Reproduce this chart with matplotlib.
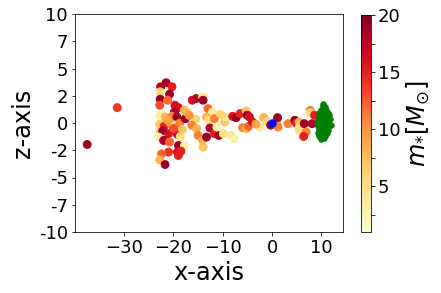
import matplotlib
matplotlib.use("Agg")
import matplotlib.pyplot as plt
import numpy as np

# stars: x, z position and mass
x_pts = [-37.5, -31.4, -21.5, -22.6, -20.3, -22.7, -20.8, -22.7, -21.2, -22.8,
         -19.7, -19.0, -19.8, -22.7, -21.7, -20.3, -19.3, -22.8, -21.9, -20.7,
         -19.7, -18.7, -17.6, -17.3, -17.8, -22.7, -22.2, -21.0, -23.0, -22.0,
         -20.8, -19.2, -18.6, -19.0, -17.8, -19.2, -18.5, -19.0, -21.0, -22.4,
         -22.8, -21.7, -16.2, -15.4, -14.1, -14.0, -15.5, -16.3, -15.3, -15.0,
         -14.1, -14.0, -13.3, -13.0, -12.1, -13.3, -12.8, -11.7, -12.1, -12.6,
         -11.7, -10.8, -9.9, -11.2, -9.6, -9.4, -8.4, -7.7, -8.0, -7.3,
         -6.5, -6.0, -5.2, -4.8, -5.3, -5.05, -4.6, -4.0, -2.5, -1.7,
         -1.1, -0.3, 0.9, 1.1, 1.2, 3.2, 4.6, 4.9, 5.5, 5.6,
         5.5, 6.5, 6.9, 6.4, 7.7, 7.7, 8.1, 8.6, -21.3, -20.0,
         -18.2, -16.8, -10.5, -3.3]
z_pts = [-1.97, 1.41, 3.69, 3.32, 3.32, 2.86, 2.64, 2.18, 2.09, 1.63,
         1.63, 1.41, 1.01, 0.71, 0.55, 0.61, 0.55, -0.12, -0.31, 0.0,
         -0.2, 0.0, 0.4, 1.01, 1.17, -0.83, -0.74, -0.98, -1.29, -1.6,
         -1.75, -1.04, -1.23, -2.06, -2.09, -2.67, -2.58, -2.98, -2.67, -2.83,
         -3.38, -3.81, 2.09, 2.24, 2.4, 2.09, 0.34, -0.2, -0.52, -1.14,
         -1.6, -2.21, -1.29, 1.32, 1.01, 0.55, 0.25, 0.4, -0.52, -0.46,
         -0.98, -1.14, -0.98, -0.37, 0.09, 0.55, -1.14, -1.44, 0.61, 0.49,
         0.86, -0.43, -0.52, -0.31, 1.11, 0.71, 0.55, 0.09, -0.37, 0.49,
         0.15, -0.2, 0.09, 0.49, -0.37, -0.06, 0.25, 0.0, 0.09, -0.31,
         -0.68, -0.06, -0.83, -1.23, 1.17, 0.92, -0.06, 0.71, 0.3, -0.5,
         -0.6, 0.7, 0.8, -0.1]
mass = [19, 14, 19, 18, 15, 6, 19, 19, 12, 13,
        16, 16, 18, 3, 8, 11, 19, 7, 15, 10,
        5, 11, 19, 6, 8, 7, 19, 16, 3, 18,
        12, 16, 5, 19, 3, 16, 15, 15, 14, 12,
        8, 19, 16, 18, 4, 19, 6, 11, 8, 11,
        8, 7, 19, 12, 4, 8, 5, 11, 11, 18,
        15, 19, 5, 3, 7, 4, 4, 3, 16, 19,
        15, 11, 8, 12, 7, 19, 16, 16, 4, 8,
        6, 19, 8, 19, 11, 11, 19, 15, 8, 5,
        5, 19, 11, 15, 11, 5, 18, 15, 9, 13,
        7, 10, 6, 9]

# central object
x_center = [0.0]
z_center = [0.0]

# green cluster
x_green = [10.3, 10.8, 9.9, 10.5, 11.0, 9.6, 10.2, 10.8, 11.3, 9.5,
           10.0, 10.6, 11.2, 9.3, 9.9, 10.5, 11.1, 11.8, 9.0, 9.6,
           10.2, 10.8, 11.4, 9.4, 10.0, 10.6, 11.2, 11.9, 9.5, 10.1,
           10.7, 11.3, 9.3, 9.9, 10.5, 11.1, 9.6, 10.2, 10.8, 10.0,
           10.6, 10.4, 9.8, 11.6]
z_green = [1.55, 1.45, 1.2, 1.25, 1.15, 0.9, 0.95, 0.85, 0.9, 0.6,
           0.65, 0.55, 0.6, 0.3, 0.35, 0.25, 0.3, 0.35, 0.0, -0.05,
           0.05, 0.0, -0.05, -0.3, -0.35, -0.25, -0.3, -0.2, -0.6, -0.65,
           -0.55, -0.6, -0.9, -0.95, -0.85, -0.9, -1.2, -1.25, -1.15, -1.45,
           -1.4, 1.7, -1.05, 0.75]

ytick_vals = np.linspace(-10, 10, 9)
ytick_labels = [str(int(v)) for v in ytick_vals]
xtick_vals = [-30, -20, -10, 0, 10]
cbar_ticks = [2.5, 5, 7.5, 10, 12.5, 15, 17.5, 20]
cbar_labels = ["", "5", "", "10", "", "15", "", "20"]

W, H = 441, 293
fig = plt.figure(figsize=(W / 72, H / 72), dpi=72)
ax = fig.add_axes([75 / W, 61 / H, 268 / W, 218 / H])
cax = fig.add_axes([361 / W, 61 / H, 10 / W, 217 / H])

sc = ax.scatter(x_pts, z_pts, c=mass, cmap="YlOrRd", vmin=1, vmax=20, s=62)
ax.scatter(x_center, z_center, c="blue", s=55)
ax.scatter(x_green, z_green, c="green", s=30)

ax.set_ylim(-10, 10)
ax.set_yticks(ytick_vals)
ax.set_yticklabels(ytick_labels)
ax.set_xticks(xtick_vals)
ax.tick_params(labelsize=18)
ax.set_xlabel("x-axis", fontsize=24)
ax.set_ylabel("z-axis", fontsize=24)

cb = fig.colorbar(sc, cax=cax)
cb.set_ticks(cbar_ticks)
cb.set_ticklabels(cbar_labels)
cb.ax.tick_params(labelsize=18)
cb.set_label(r"$m_{*}[M_{\odot}]$", fontsize=24)

plt.savefig("out.png", dpi=72)
